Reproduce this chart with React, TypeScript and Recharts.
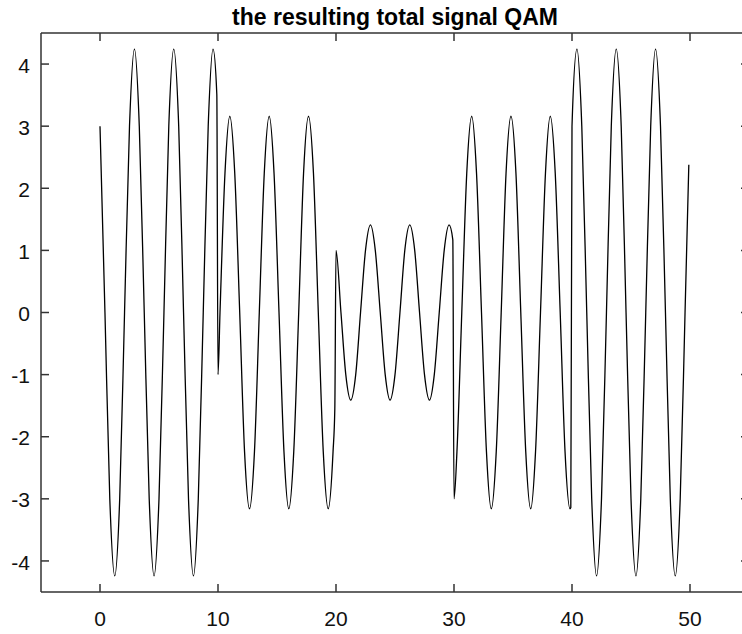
import { LineChart, Line, XAxis, YAxis } from "recharts";

// [time, amplitude] key points, one block per 10-unit symbol
const symbol1: [number, number][] = [
  [0, 3], [0.42, 0], [0.83, -3], [1.25, -4.24], [1.67, -3], [2.08, 0], [2.5, 3], [2.92, 4.24],
  [3.33, 3], [3.75, 0], [4.17, -3], [4.58, -4.24], [5, -3], [5.42, 0], [5.83, 3], [6.25, 4.24],
  [6.67, 3], [7.08, 0], [7.5, -3], [7.92, -4.24], [8.33, -3], [8.75, 0], [9.17, 3], [9.58, 4.24],
  [9.9, 3.51],
];
const symbol2: [number, number][] = [
  [10, -1], [10.17, 0], [10.59, 2.24], [11, 3.16], [11.42, 2.24], [11.84, 0], [12.25, -2.24], [12.67, -3.16],
  [13.09, -2.24], [13.5, 0], [13.92, 2.24], [14.34, 3.16], [14.75, 2.24], [15.17, 0], [15.59, -2.24], [16, -3.16],
  [16.42, -2.24], [16.84, 0], [17.25, 2.24], [17.67, 3.16], [18.09, 2.24], [18.5, 0], [18.92, -2.24], [19.34, -3.16],
  [19.75, -2.24], [19.9, -1.55],
];
const symbol3: [number, number][] = [
  [20, 1], [20.42, 0], [20.83, -1], [21.25, -1.41], [21.67, -1], [22.08, 0], [22.5, 1], [22.92, 1.41],
  [23.33, 1], [23.75, 0], [24.17, -1], [24.58, -1.41], [25, -1], [25.42, 0], [25.83, 1], [26.25, 1.41],
  [26.67, 1], [27.08, 0], [27.5, -1], [27.92, -1.41], [28.33, -1], [28.75, 0], [29.17, 1], [29.58, 1.41],
  [29.9, 1.17],
];
const symbol4: [number, number][] = [
  [30, -3], [30.25, -2.24], [30.66, 0], [31.08, 2.24], [31.5, 3.16], [31.91, 2.24], [32.33, 0], [32.75, -2.24],
  [33.16, -3.16], [33.58, -2.24], [34, 0], [34.41, 2.24], [34.83, 3.16], [35.25, 2.24], [35.66, 0], [36.08, -2.24],
  [36.5, -3.16], [36.91, -2.24], [37.33, 0], [37.75, 2.24], [38.16, 3.16], [38.58, 2.24], [39, 0], [39.41, -2.24],
  [39.83, -3.16], [39.9, -3.14],
];
const symbol5: [number, number][] = [
  [40, 3], [40.42, 4.24], [40.83, 3], [41.25, 0], [41.67, -3], [42.08, -4.24], [42.5, -3], [42.92, 0],
  [43.33, 3], [43.75, 4.24], [44.17, 3], [44.58, 0], [45, -3], [45.42, -4.24], [45.83, -3], [46.25, 0],
  [46.67, 3], [47.08, 4.24], [47.5, 3], [47.92, 0], [48.33, -3], [48.75, -4.24], [49.17, -3], [49.58, 0],
  [49.9, 2.38],
];

const xTicks = [0, 10, 20, 30, 40, 50];
const yTicks = [-4, -3, -2, -1, 0, 1, 2, 3, 4];
const title = "the resulting total signal QAM";

const data = [...symbol1, ...symbol2, ...symbol3, ...symbol4, ...symbol5].map(([t, v]) => ({ t, v }));

const FONT = "'Liberation Sans', Arial, sans-serif";
const AXIS = "#333";

const BottomTick = ({ x, y, payload }: any) => (
  <g>
    <line x1={x} x2={x} y1={y} y2={y - 8} stroke={AXIS} strokeWidth={1.5} />
    <text x={x} y={y + 34} textAnchor="middle" fontSize={21} fontFamily={FONT} fill="#111">
      {payload.value}
    </text>
  </g>
);

const TopTick = ({ x, y }: any) => (
  <line x1={x} x2={x} y1={y} y2={y + 8} stroke={AXIS} strokeWidth={1.5} />
);

const LeftTick = ({ x, y, payload }: any) => (
  <g>
    <line x1={x} x2={x + 8} y1={y} y2={y} stroke={AXIS} strokeWidth={1.5} />
    <text x={x - 11} y={y + 1} dy="0.36em" textAnchor="end" fontSize={21} fontFamily={FONT} fill="#111">
      {payload.value}
    </text>
  </g>
);

const RightTick = ({ x, y }: any) => (
  <line x1={x} x2={x - 8} y1={y} y2={y} stroke={AXIS} strokeWidth={1.5} />
);

export default function App() {
  const axisLine = { stroke: AXIS, strokeWidth: 1.5 };
  return (
    <div
      style={{
        position: "fixed",
        left: 0,
        top: 0,
        width: 742,
        height: 634,
        overflow: "hidden",
        background: "#fff",
      }}
    >
      <LineChart width={750} height={634} data={data} margin={{ top: 32, right: 0, bottom: 0, left: 0 }}>
        <XAxis
          xAxisId="b"
          dataKey="t"
          type="number"
          domain={[-5, 55]}
          ticks={xTicks}
          allowDataOverflow
          height={42}
          axisLine={axisLine}
          tickLine={false}
          tickSize={0}
          tickMargin={0}
          tick={BottomTick}
        />
        <XAxis
          xAxisId="t"
          orientation="top"
          dataKey="t"
          type="number"
          domain={[-5, 55]}
          ticks={xTicks}
          allowDataOverflow
          height={1}
          axisLine={axisLine}
          tickLine={false}
          tickSize={0}
          tickMargin={0}
          tick={TopTick}
        />
        <YAxis
          yAxisId="l"
          type="number"
          domain={[-4.5, 4.5]}
          ticks={yTicks}
          allowDataOverflow
          width={41}
          axisLine={axisLine}
          tickLine={false}
          tickSize={0}
          tickMargin={0}
          tick={LeftTick}
        />
        <YAxis
          yAxisId="r"
          orientation="right"
          type="number"
          domain={[-4.5, 4.5]}
          ticks={yTicks}
          allowDataOverflow
          width={1}
          axisLine={axisLine}
          tickLine={false}
          tickSize={0}
          tickMargin={0}
          tick={RightTick}
        />
        <Line
          xAxisId="b"
          yAxisId="l"
          dataKey="v"
          type="monotone"
          stroke="#000"
          strokeWidth={1.3}
          dot={false}
          isAnimationActive={false}
        />
      </LineChart>
      <svg
        width={742}
        height={32}
        style={{ position: "absolute", left: 0, top: 0, pointerEvents: "none" }}
      >
        <text x={395} y={25} textAnchor="middle" fontSize={23} fontWeight="bold" fontFamily={FONT} fill="#000">
          {title}
        </text>
      </svg>
    </div>
  );
}
